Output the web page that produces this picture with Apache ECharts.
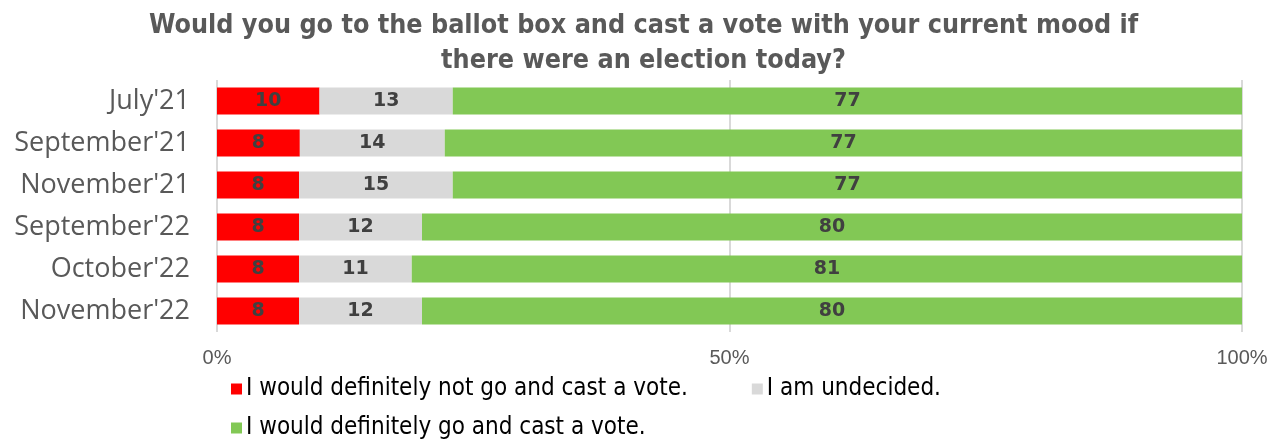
<!DOCTYPE html>
<html>
<head>
<meta charset="utf-8">
<script src="https://cdn.jsdelivr.net/npm/echarts@6/dist/echarts.min.js"></script>
<style>
  html, body { margin: 0; padding: 0; background: #fff; }
  #chart { width: 1287px; height: 439px; }
</style>
</head>
<body>
<div id="chart"></div>
<script>
// Survey waves, top to bottom
const categories = ["July'21", "September'21", "November'21", "September'22", "October'22", "November'22"];

// Answer shares (%) per wave
const notGo = [10, 8, 8, 8, 8, 8];
const undecided = [13, 14, 15, 12, 11, 12];
const willGo = [77, 77, 77, 80, 81, 80];

const seriesNames = [
  'I would definitely not go and cast a vote.',
  'I am undecided.',
  'I would definitely go and cast a vote.'
];
const seriesColors = ['#FF0000', '#D9D9D9', '#82C855'];
const xTicks = [0, 50, 100];

const rows = [notGo, undecided, willGo];
// Each bar is a 100% stack: normalise every wave by its own total
const totals = categories.map((_, i) => rows.reduce((s, r) => s + r[i], 0));

const narrow = "'Liberation Sans Narrow', 'DejaVu Sans Condensed', 'Arial Narrow', sans-serif";

const chart = echarts.init(document.getElementById('chart'), null, { renderer: 'canvas' });

const series = rows.map((vals, k) => ({
  name: seriesNames[k],
  type: 'bar',
  stack: 'total',
  barWidth: 27,
  itemStyle: { color: seriesColors[k] },
  data: vals.map((v, i) => v / totals[i] * 100),
  label: {
    show: true,
    position: 'inside',
    color: '#404040',
    fontFamily: "'DejaVu Sans', sans-serif",
    fontWeight: 'bold',
    fontSize: 19,
    formatter: p => String(vals[p.dataIndex])
  },
  emphasis: { disabled: true }
}));

chart.setOption({
  animation: false,
  backgroundColor: '#ffffff',
  title: {
    text: 'Would you go to the ballot box and cast a vote with your current mood if\nthere were an election today?',
    left: 'center',
    top: 4,
    textStyle: {
      fontFamily: narrow,
      fontWeight: 'bold',
      fontSize: 26.7,
      lineHeight: 35,
      color: '#595959'
    }
  },
  legend: [
    {
      data: [seriesNames[0], seriesNames[1]],
      left: 226,
      top: 372,
      itemWidth: 11,
      itemHeight: 11,
      itemGap: 64,
      icon: 'rect',
      textStyle: { fontFamily: narrow, fontSize: 24, color: '#000000', padding: [0, 0, 0, -1] }
    },
    {
      data: [seriesNames[2]],
      left: 226,
      top: 411,
      itemWidth: 11,
      itemHeight: 11,
      icon: 'rect',
      textStyle: { fontFamily: narrow, fontSize: 24, color: '#000000', padding: [0, 0, 0, -1] }
    }
  ],
  grid: { left: 217, right: 45, top: 80, bottom: 107, containLabel: false },
  xAxis: {
    type: 'value',
    min: xTicks[0],
    max: xTicks[xTicks.length - 1],
    interval: xTicks[1] - xTicks[0],
    axisLine: { show: false },
    axisTick: { show: false },
    splitLine: { show: true, lineStyle: { color: '#D9D9D9', width: 2 } },
    axisLabel: {
      margin: 16,
      color: '#595959',
      fontFamily: "'Liberation Sans', Arial, sans-serif",
      fontSize: 20,
      formatter: v => v + '%'
    }
  },
  yAxis: {
    type: 'category',
    inverse: true,
    data: categories,
    axisLine: { show: false },
    axisTick: { show: false },
    axisLabel: {
      margin: 27,
      color: '#595959',
      fontFamily: "'Open Sans', 'Liberation Sans', sans-serif",
      fontSize: 27
    }
  },
  series: series
});
</script>
</body>
</html>
